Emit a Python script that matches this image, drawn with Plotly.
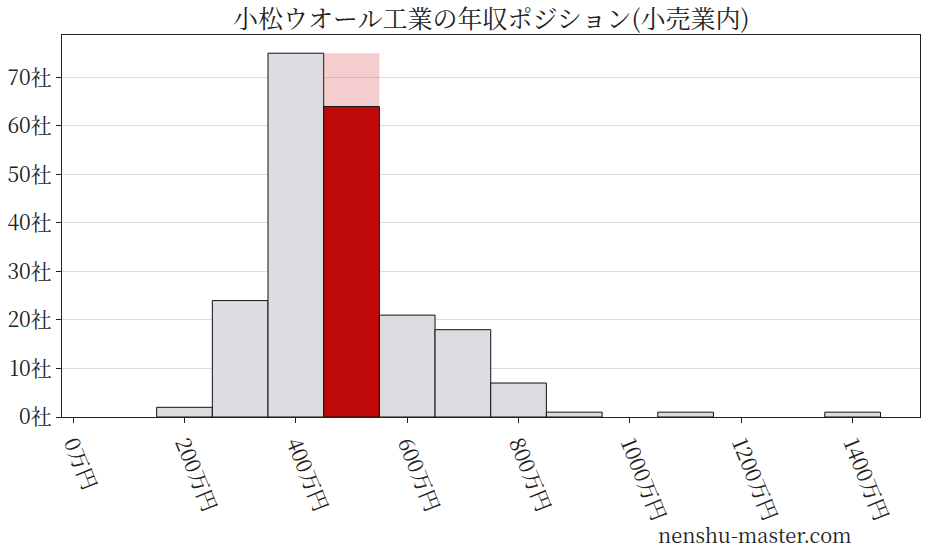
import plotly.graph_objects as go

# Data
bin_centers = [200, 300, 400, 500, 600, 700, 800, 900, 1000, 1100, 1200, 1300, 1400]
counts      = [2,   24,  75,  64,  21,  18,  7,   1,   0,    1,    0,    0,    1]
highlight_center = 500
highlight_count = 64
highlight_ref = 75
bin_width = 100
x_tick_vals = [0, 200, 400, 600, 800, 1000, 1200, 1400]
x_tick_text = [f"{v}万円" for v in x_tick_vals]
y_tick_vals = [0, 10, 20, 30, 40, 50, 60, 70]
y_tick_text = [f"{v}社" for v in y_tick_vals]
title = "小松ウオール工業の年収ポジション(小売業内)"
watermark = "nenshu-master.com"

FONT = "Noto Serif CJK JP, Liberation Serif, DejaVu Serif, Noto Sans CJK JP, serif"

gray_x = [c for c, n in zip(bin_centers, counts) if c != highlight_center and n > 0]
gray_y = [n for c, n in zip(bin_centers, counts) if c != highlight_center and n > 0]

fig = go.Figure()
fig.add_trace(go.Bar(
    x=gray_x, y=gray_y, width=bin_width,
    marker=dict(color="#dcdde0", line=dict(color="#111111", width=1)),
    hoverinfo="skip",
))
fig.add_trace(go.Bar(
    x=[highlight_center], y=[highlight_ref], width=bin_width,
    marker=dict(color="rgba(216,80,80,0.28)", line=dict(width=0)),
    hoverinfo="skip",
))
fig.add_trace(go.Bar(
    x=[highlight_center], y=[highlight_count], width=bin_width,
    marker=dict(color="#c00a0a", line=dict(color="#111111", width=1)),
    hoverinfo="skip",
))

fig.update_layout(
    width=927, height=557,
    margin=dict(l=62, r=7, t=35, b=140, autoexpand=False),
    barmode="overlay",
    showlegend=False,
    plot_bgcolor="white",
    paper_bgcolor="white",
    font=dict(family=FONT, color="#222222", size=21),
    title=dict(text=title, x=0.53, xanchor="center", y=0.966, yanchor="middle",
               font=dict(family=FONT, size=25, color="#222222")),
    xaxis=dict(
        range=[-20, 1521],
        tickvals=x_tick_vals, ticktext=x_tick_text,
        tickangle=68,
        ticks="outside", ticklen=5, tickcolor="#222222",
        showgrid=False, zeroline=False, automargin=False,
        showline=True, linecolor="#222222", linewidth=1, mirror=True,
        tickfont=dict(size=21),
    ),
    yaxis=dict(
        range=[0, 78.75],
        tickvals=y_tick_vals, ticktext=y_tick_text,
        ticks="outside", ticklen=5, tickcolor="#222222",
        showgrid=True, gridcolor="#dddddd", gridwidth=1,
        zeroline=False, automargin=False,
        showline=True, linecolor="#222222", linewidth=1, mirror=True,
        tickfont=dict(size=21),
    ),
    annotations=[dict(
        text=watermark, xref="paper", yref="paper",
        x=0.808, y=-0.308, xanchor="center", yanchor="middle",
        showarrow=False, font=dict(family=FONT, size=20, color="#222222"),
    )],
)

fig.write_html(
    "out.html",
    config={"displayModeBar": False},
    post_script="document.body.style.margin='0';document.body.style.overflow='hidden';",
)
